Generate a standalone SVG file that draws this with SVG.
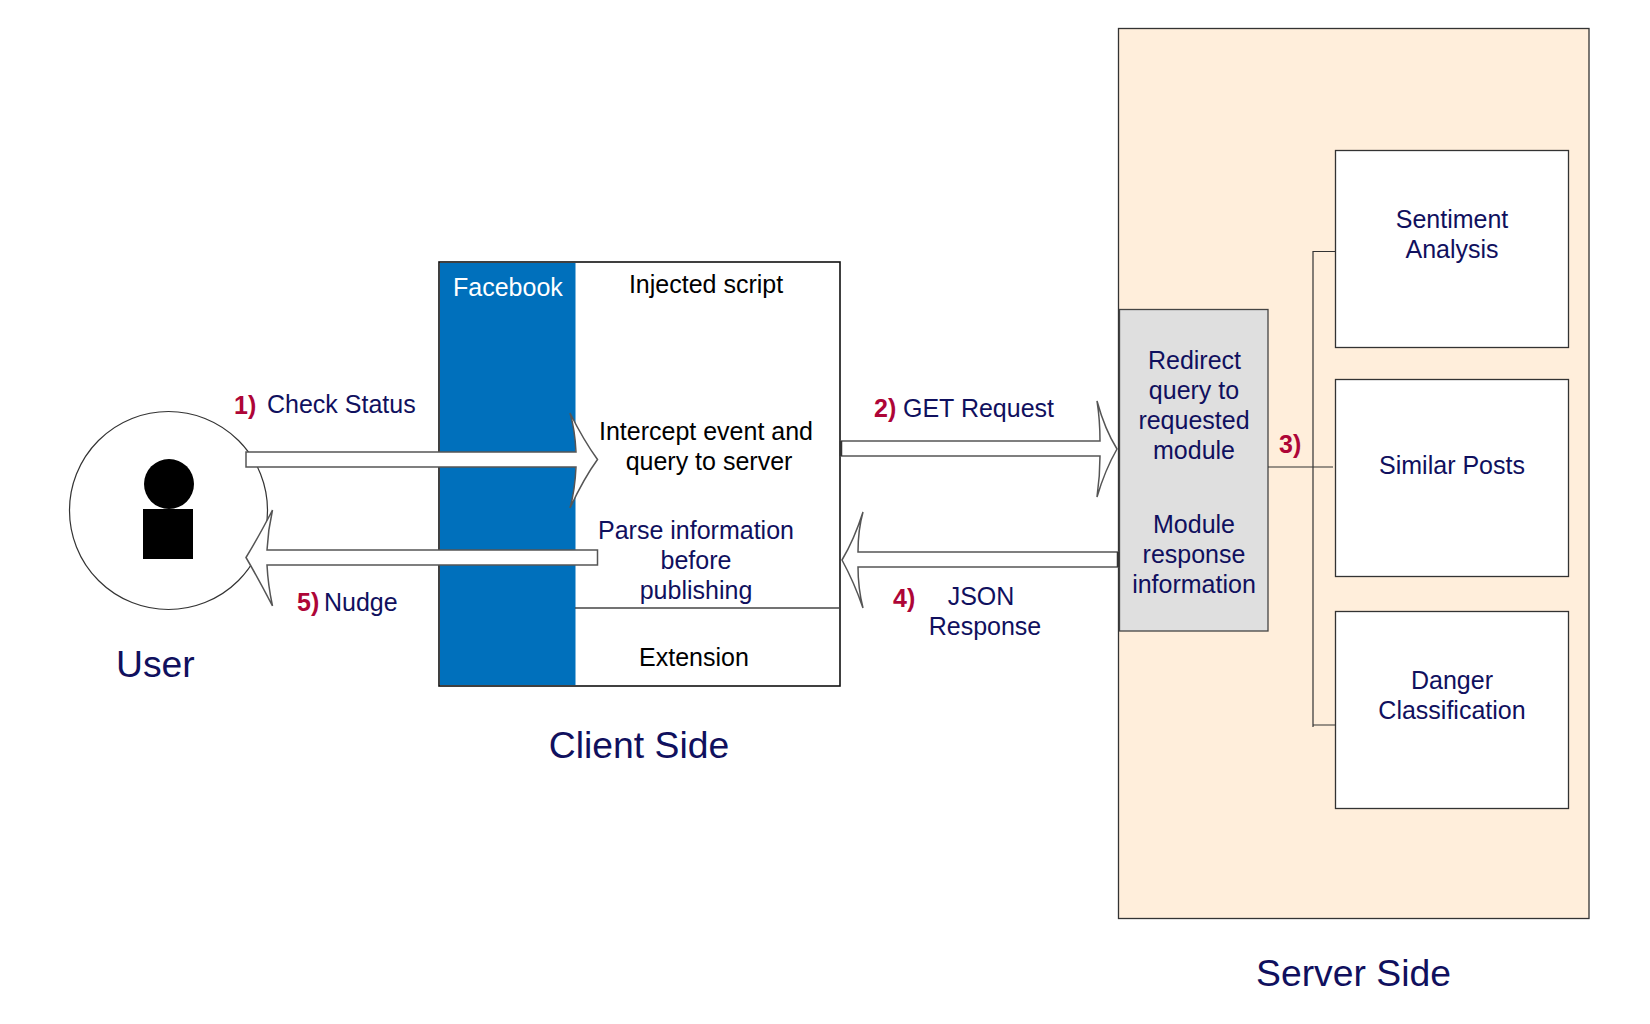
<svg xmlns="http://www.w3.org/2000/svg" width="1650" height="1024" viewBox="0 0 1650 1024">
<style>
text{font-family:"Liberation Sans",Arial,sans-serif;font-size:25px;fill:#10105e}
.m{text-anchor:middle}
.k{fill:#000}
.w{fill:#fff}
.n{font-weight:bold;fill:#ae0537}
.h{font-size:37.300px}
.box{fill:#fff;stroke:#333;stroke-width:1.3}
.arrow{fill:#fff;stroke:#555;stroke-width:1.5}
.line{fill:none;stroke:#333;stroke-width:1.2}
</style>
<rect width="1650" height="1024" fill="#fff"/>
<g id="server">
<rect x="1118.500" y="28.500" width="470.500" height="890" fill="#ffeedb" stroke="#333" stroke-width="1.3"/>
<text class="m h" x="1353.500" y="986">Server Side</text>
</g>
<g id="user">
<circle cx="168.500" cy="510.500" r="99" fill="#fff" stroke="#333" stroke-width="1.2"/>
<circle cx="169" cy="484" r="25" fill="#000"/>
<rect x="143" y="509" width="50" height="50" fill="#000"/>
<text x="116" y="677" class="h">User</text>
</g>
<g id="client">
<rect x="439" y="262" width="401" height="424" fill="#fff" stroke="#111" stroke-width="1.6"/>
<rect x="440" y="263" width="135.500" height="422" fill="#0070bc"/>
<line x1="575" y1="608" x2="840" y2="608" stroke="#444" stroke-width="1.3"/>
<text x="453" y="296" class="w">Facebook</text>
<text x="706" y="293" class="m k">Injected script</text>
<text x="706" y="440" class="m k">Intercept event and</text>
<text x="709" y="470" class="m k">query to server</text>
<text class="m" x="696" y="539">Parse information</text>
<text class="m" x="696" y="569">before</text>
<text class="m" x="696" y="599">publishing</text>
<text x="694" y="666" class="m k">Extension</text>
<text x="639" y="758" class="m h">Client Side</text>
</g>
<g id="gateway">
<rect x="1119.500" y="309.500" width="148.500" height="321.500" fill="#dfdfdf" stroke="#444" stroke-width="1.3"/>
<text class="m" x="1194.500" y="369">Redirect</text>
<text class="m" x="1194" y="399">query to</text>
<text class="m" x="1194" y="429">requested</text>
<text class="m" x="1194" y="459">module</text>
<text class="m" x="1194" y="533">Module</text>
<text class="m" x="1194" y="563">response</text>
<text class="m" x="1194" y="593">information</text>
</g>
<g id="sentiment">
<rect class="box" x="1335.500" y="150.500" width="233" height="197"/>
<text class="m" x="1452" y="228">Sentiment</text>
<text class="m" x="1452" y="258">Analysis</text>
</g>
<g id="similar">
<rect class="box" x="1335.500" y="379.500" width="233" height="197"/>
<text class="m" x="1452" y="474">Similar Posts</text>
</g>
<g id="danger">
<rect class="box" x="1335.500" y="611.500" width="233" height="197"/>
<text class="m" x="1452" y="689">Danger</text>
<text class="m" x="1452" y="719">Classification</text>
</g>
<g id="connectors">
<path class="arrow" d="M246 452H576Q575 430 570 413Q584 441 597.500 459.500Q584 478 570 508Q575 490 576 467H246Z"/>
<path class="arrow" d="M597.500 550H267Q268 530 272.500 510Q258 538 246 557.500Q258 578 272.500 606Q268 585 267 565H597.500Z"/>
<path class="arrow" d="M841 441H1100Q1100 420 1097 401Q1105 430 1117 449Q1105 470 1097 497Q1100 476 1100 456H841Z"/>
<path class="arrow" d="M1118 552H858Q858 530 863 512Q854 540 842 560Q854 582 863 608Q858 588 858 567H1118Z"/>
<path d="M841 441V456M1118 552V567" fill="none" stroke="#333" stroke-width="2.500"/>
<path class="line" d="M1268 467H1333M1313 727V251.500H1336M1313 725H1336"/>
<text x="234" y="414" class="n">1)</text>
<text x="267" y="413">Check Status</text>
<text x="874" y="417" class="n">2)</text>
<text x="903" y="417">GET Request</text>
<text x="1279" y="453" class="n">3)</text>
<text x="893" y="607" class="n">4)</text>
<text x="981" y="605" class="m">JSON</text>
<text x="985" y="635" class="m">Response</text>
<text x="297" y="611" class="n">5)</text>
<text x="324" y="611">Nudge</text>
</g>
</svg>
